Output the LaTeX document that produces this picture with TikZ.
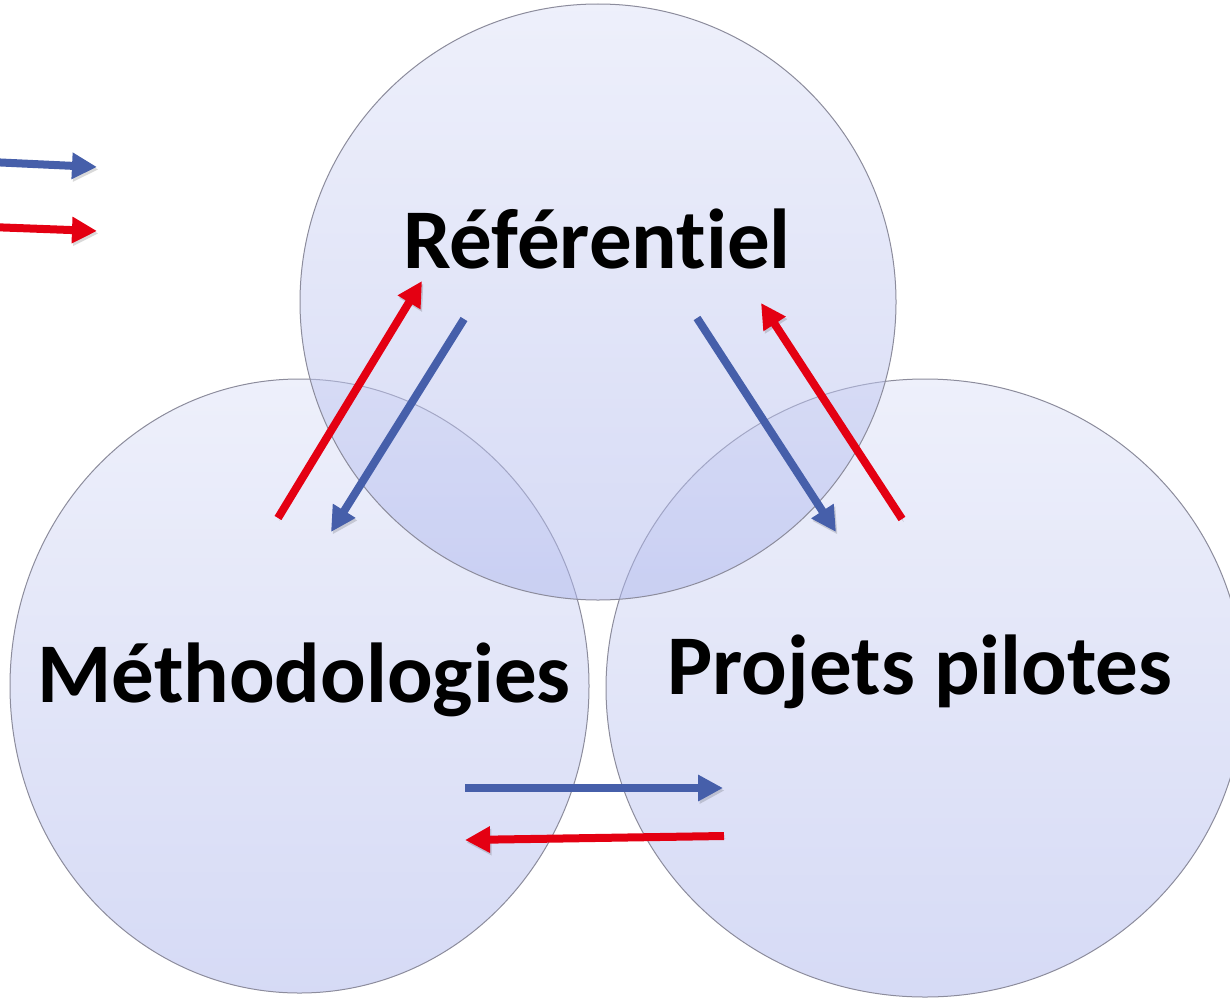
\documentclass[tikz,border=0pt]{standalone}
\usepackage{fontspec}
\setmainfont[Ligatures=NoCommon]{Carlito}
\usetikzlibrary{arrows.meta,shapes.geometric}
\definecolor{arrblue}{HTML}{465FAA}
\definecolor{arrred}{HTML}{E40012}
\definecolor{bubtop}{HTML}{DDE1F7}
\definecolor{bubbot}{HTML}{ADB6EC}
\definecolor{bubline}{HTML}{8C8C9C}
\tikzset{
  bubble/.style={ellipse, inner sep=0pt, draw=bubline, line width=1pt,
    top color=bubtop, bottom color=bubbot, fill opacity=0.5, draw opacity=1},
  label/.style={font=\bfseries\fontsize{85}{100}\selectfont, anchor=base, inner sep=0pt},
  arr/.style={line width=8pt, -{Triangle[length=25pt,width=25pt]},
    preaction={draw=black, draw opacity=0.15, fill opacity=0.15, fill=black,
      transform canvas={shift={(1.5pt,-2.5pt)}}}},
  barr/.style={arr, draw=arrblue, fill=arrblue},
  rarr/.style={arr, draw=arrred, fill=arrred}
}
\begin{document}
\begin{tikzpicture}[x=1pt,y=-1pt]
\useasboundingbox (0,0) rectangle (1230,998);
% bubbles
\node[bubble, minimum width=579pt, minimum height=614pt] (meth) at (299.5,686) {};
\node[bubble, minimum width=638pt, minimum height=618pt] (proj) at (925,688) {};
\node[bubble, minimum width=596pt, minimum height=596pt] (ref) at (598,302) {};
% labels
\node[label] (tref) at (597,268) {Référentiel};
\node[label] (tmeth) at (304,702) {Méthodologies};
\node[label] (tproj) at (920,694) {Projets pilotes};
% arrow end points
\coordinate (lb1) at (-10,162); \coordinate (lb2) at (97,167);
\coordinate (lr1) at (-10,227); \coordinate (lr2) at (97,231);
\coordinate (r1a) at (278,518); \coordinate (r1b) at (422,281);
\coordinate (b1a) at (464,319); \coordinate (b1b) at (331,532);
\coordinate (b2a) at (697,318); \coordinate (b2b) at (836,532);
\coordinate (r2a) at (902,519); \coordinate (r2b) at (761,303);
\coordinate (b3a) at (465,788); \coordinate (b3b) at (723,788);
\coordinate (r3a) at (724,836); \coordinate (r3b) at (465,840);
% arrows
\draw[barr] (lb1) -- (lb2);
\draw[rarr] (lr1) -- (lr2);
\draw[rarr] (r1a) -- (r1b);
\draw[barr] (b1a) -- (b1b);
\draw[barr] (b2a) -- (b2b);
\draw[rarr] (r2a) -- (r2b);
\draw[barr] (b3a) -- (b3b);
\draw[rarr] (r3a) -- (r3b);
\end{tikzpicture}
\end{document}
